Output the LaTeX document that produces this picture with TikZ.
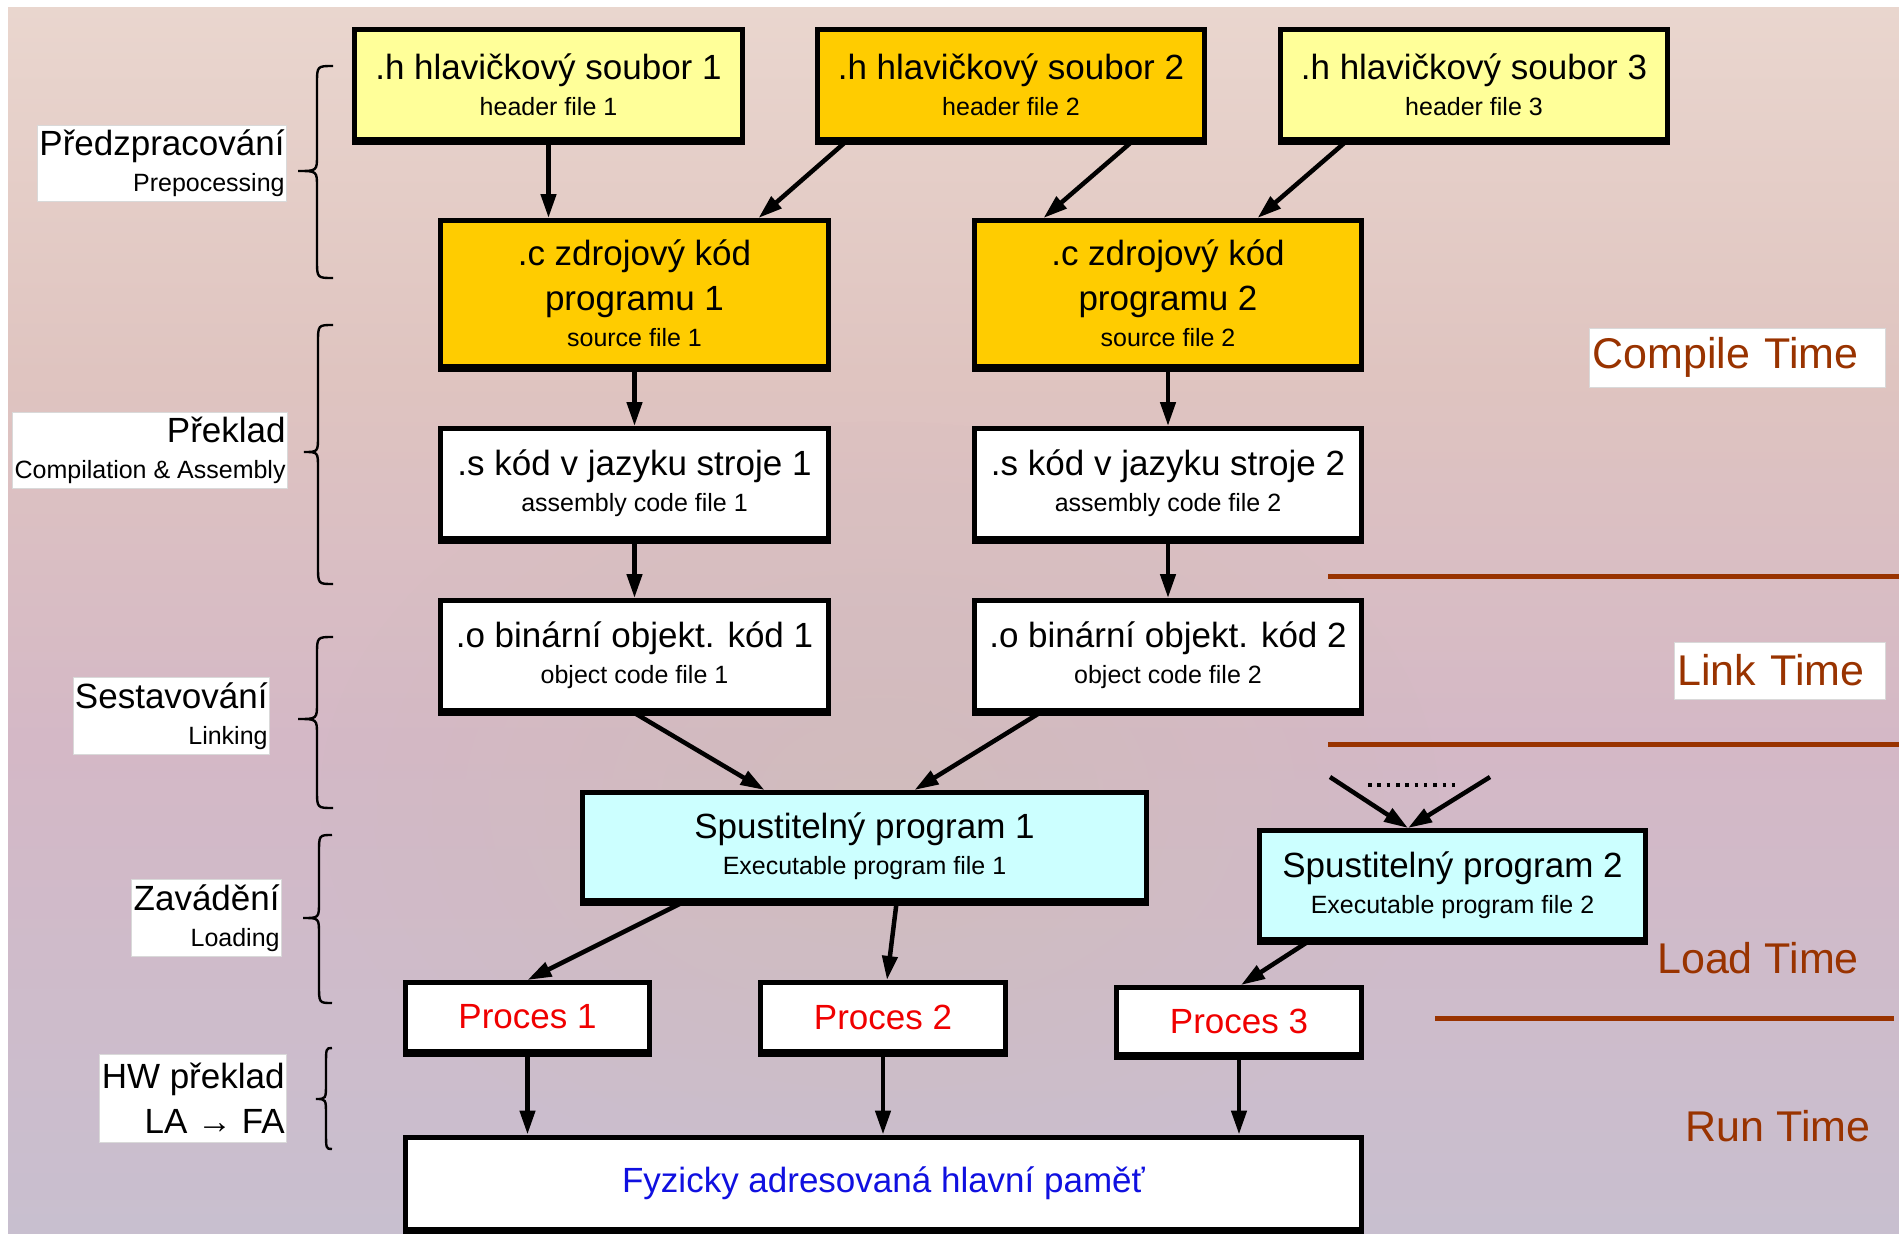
\documentclass[tikz,border=0pt]{standalone}
\usepackage{fontspec}
\setmainfont{Liberation Sans}
\usetikzlibrary{arrows.meta,calc,fadings}

\definecolor{hyel}{HTML}{FFFF99}
\definecolor{hgold}{HTML}{FFCC00}
\definecolor{hcyan}{HTML}{CCFFFF}
\definecolor{tbrown}{HTML}{993300}
\definecolor{pred}{HTML}{F00000}
\definecolor{mblue}{HTML}{1010E0}
\definecolor{bgA}{HTML}{F4EAE4}
\definecolor{bgB}{HTML}{EDDCD3}
\definecolor{bgC}{HTML}{DFC4C0}
\definecolor{bgD}{HTML}{D4B8C6}
\definecolor{bgE}{HTML}{C8BFCF}
\definecolor{bgF}{HTML}{BDCBDE}
\definecolor{tanc}{HTML}{D0BFB5}

\pgfdeclareverticalshading{bgv}{100bp}{color(0bp)=(bgF); color(25bp)=(bgE); color(45bp)=(bgD); color(60bp)=(bgC); color(80bp)=(bgB); color(100bp)=(bgA)}
\tikzfading[name=softblob, inner color=transparent!0, outer color=transparent!100]

\newcommand{\tbig}{\fontsize{35}{36}\selectfont}
\newcommand{\tsmall}{\fontsize{25}{36}\selectfont}
\newcommand{\tright}{\fontsize{43}{50}\selectfont}

\newcommand{\mybrace}[6]{%
  \draw[brc] (#3,#4) .. controls (#2,#4) .. (#2,#4+18) -- (#2,#5-16)
    .. controls (#2,#5) .. (#1,#5) .. controls (#2,#5) .. (#2,#5+16)
    -- (#2,#6-18) .. controls (#2,#6) .. (#3,#6);}

\tikzset{
  box/.style={draw=black, line width=5pt, inner sep=0pt, align=center, font=\tbig,
              preaction={draw=black, line width=5pt, transform canvas={yshift=-2.5pt}}},
  arr/.style={line width=4.5pt, -{Triangle[length=24pt,width=15pt]}},
  lbl/.style={fill=white, draw=black!15, line width=0.8pt, align=right,
              inner xsep=2pt, inner ysep=0pt, anchor=east, font=\tbig},
  rlbl/.style={fill=white, draw=black!15, line width=0.8pt, align=left,
               inner xsep=3pt, inner ysep=0pt, anchor=west, text=tbrown, font=\tright},
  timeline/.style={draw=tbrown, line width=5pt},
  brc/.style={line width=2.4pt, draw=black},
  dotline/.style={line width=3.5pt, dash pattern=on 3.5pt off 5.83pt},
}

\begin{document}
\begin{tikzpicture}[x=1pt,y=-1pt]
\useasboundingbox (0,0) rectangle (1899,1234);
% background
\shade[shading=bgv] (8,7) rectangle (1899,1234);
\fill[tanc, opacity=0.55, path fading=softblob] (880,800) ellipse [x radius=560pt, y radius=380pt];

% brown separators
\draw[timeline] (1328,576) -- (1899,576);
\draw[timeline] (1328,744) -- (1899,744);
\draw[timeline] (1435,1018) -- (1894,1018);

% braces
\mybrace{298}{317}{333}{66}{171}{278}
\mybrace{304}{318}{333}{325}{452}{584}
\mybrace{298}{317}{333}{637}{719}{808}
\mybrace{303}{319}{332}{835}{918}{1003}
\mybrace{316}{326}{332}{1048}{1099}{1149}

% left labels
\node[lbl, minimum height=76pt] (l1) at (287,163) {Předzpracování\\ \tsmall Prepocessing};
\node[lbl, minimum height=76pt] (l2) at (288,450) {Překlad\\ \tsmall Compilation \& Assembly};
\node[lbl, minimum height=77pt] (l3) at (270,716) {Sestavování\\ \tsmall Linking};
\node[lbl, minimum height=77pt] (l4) at (282,918) {Zavádění\\ \tsmall Loading};
\node[lbl, minimum height=88pt] (l5) at (287,1098) {HW překlad\\[9pt] LA → FA};

% right labels
\node[rlbl, text width=290pt, minimum height=59pt] (ct) at (1589,357.5) {Compile Time};
\node[rlbl, text width=205pt, minimum height=57pt] (lt) at (1674,670.5) {Link Time};
\node[text=tbrown, font=\tright, inner sep=0pt] (ldt) at (1758,958) {Load Time};
\node[text=tbrown, font=\tright, inner sep=0pt] (rt) at (1778,1126) {Run Time};

% boxes
\node[box, fill=hyel, minimum width=388pt, minimum height=110pt] (h1) at (548.5,84.5) {.h hlavičkový soubor 1\\ \tsmall header file 1};
\node[box, fill=hgold, minimum width=387pt, minimum height=110pt] (h2) at (1011,84.5) {.h hlavičkový soubor 2\\ \tsmall header file 2};
\node[box, fill=hyel, minimum width=387pt, minimum height=110pt] (h3) at (1474,84.5) {.h hlavičkový soubor 3\\ \tsmall header file 3};

\node[box, fill=hgold, minimum width=388pt, minimum height=146pt] (s1) at (634.5,293.5) {.c zdrojový kód\\[9pt] programu 1\\ \tsmall source file 1};
\node[box, fill=hgold, minimum width=387pt, minimum height=146pt] (s2) at (1168,293.5) {.c zdrojový kód\\[9pt] programu 2\\ \tsmall source file 2};

\node[box, fill=white, minimum width=388pt, minimum height=110pt] (a1) at (634.5,483.5) {.s kód v jazyku stroje 1\\ \tsmall assembly code file 1};
\node[box, fill=white, minimum width=387pt, minimum height=110pt] (a2) at (1168,483.5) {.s kód v jazyku stroje 2\\ \tsmall assembly code file 2};

\node[box, fill=white, minimum width=388pt, minimum height=110pt] (o1) at (634.5,655.5) {.o binární objekt. kód 1\\ \tsmall object code file 1};
\node[box, fill=white, minimum width=387pt, minimum height=110pt] (o2) at (1168,655.5) {.o binární objekt. kód 2\\ \tsmall object code file 2};

\node[box, fill=hcyan, minimum width=564pt, minimum height=108pt] (e1) at (864.5,846.5) {Spustitelný program 1\\ \tsmall Executable program file 1};
\node[box, fill=hcyan, minimum width=386pt, minimum height=109pt] (e2) at (1452.5,885) {Spustitelný program 2\\ \tsmall Executable program file 2};

\node[box, fill=white, text=pred, minimum width=244pt, minimum height=69pt] (p1) at (527.5,1017) {Proces 1};
\node[box, fill=white, text=pred, minimum width=245pt, minimum height=69pt] (p2) at (883,1017) {Proces 2};
\node[box, fill=white, text=pred, minimum width=245pt, minimum height=67pt] (p3) at (1239,1021) {Proces 3};

\node[box, fill=white, text=mblue, minimum width=956pt, minimum height=92pt] (mem) at (883.5,1183) {Fyzicky adresovaná hlavní paměť};

% connectors
\draw[arr] (h1.south) -- (h1.south |- s1.north);
\draw[arr] ([xshift=30.5pt]h2.south west) -- ([xshift=320.5pt]s1.north west);
\draw[arr] ([xshift=316.5pt]h2.south west) -- ([xshift=71.5pt]s2.north west);
\draw[arr] ([xshift=67.5pt]h3.south west) -- ([xshift=285.5pt]s2.north west);

\draw[arr] (s1.south) -- (a1.north);
\draw[arr] (s2.south) -- (a2.north);
\draw[arr] (a1.south) -- (o1.north);
\draw[arr] (a2.south) -- (o2.north);

\draw[arr] (o1.south) -- ([xshift=184.5pt]e1.north west);
\draw[arr] ([xshift=67.5pt]o2.south west) -- ([xshift=334.5pt]e1.north west);

\coordinate (v1) at (1330,777);
\coordinate (v2) at (1490,777);
\draw[arr] (v1) -- ([xshift=151pt]e2.north west);
\draw[arr] (v2) -- ([xshift=151pt]e2.north west);
\coordinate (d1) at (1368,785);
\coordinate (d2) at (1455,785);
\draw[dotline] (d1) -- (d2);

\draw[arr] ([xshift=101.5pt]e1.south west) -- (p1.north);
\draw[arr] ([xshift=316.5pt]e1.south west) -- ([xshift=4pt]p2.north);
\draw[arr] ([xshift=50.5pt]e2.south west) -- ([xshift=2pt]p3.north);

\draw[arr] (p1.south) -- (p1.south |- mem.north);
\draw[arr] (p2.south) -- (p2.south |- mem.north);
\draw[arr] (p3.south) -- (p3.south |- mem.north);
\end{tikzpicture}
\end{document}
